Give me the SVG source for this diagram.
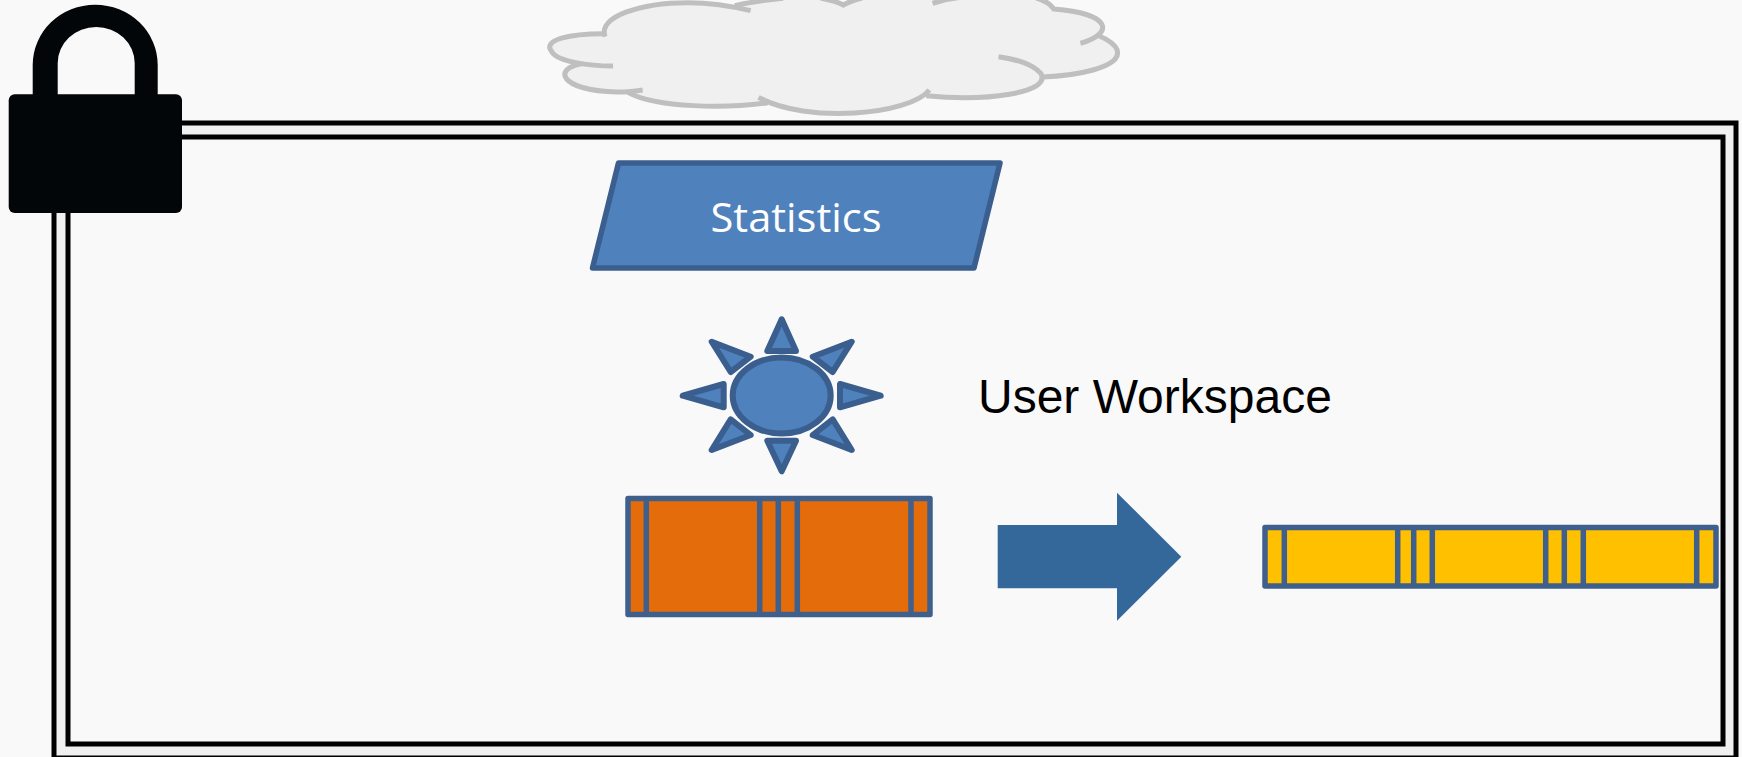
<svg xmlns="http://www.w3.org/2000/svg" width="1742" height="757" viewBox="0 0 1742 757">
<style>
.bl{fill:#4f81bd;stroke:#3a5f8f;stroke-width:6;stroke-linejoin:round}
.bar{stroke:#3f5f8d;stroke-width:5.500;stroke-linejoin:round}
.cl{fill:none;stroke:#bfbfbf;stroke-width:5;vector-effect:non-scaling-stroke}
</style>
<rect width="1742" height="757" fill="#f9f9f9"/>
<g id="frame">
<rect x="54" y="123" width="1682" height="635" fill="#f0f0f0" stroke="#000" stroke-width="5"/>
<rect x="68" y="137" width="1655" height="607" fill="#f9f9f9" stroke="#000" stroke-width="5"/>
</g>
<g id="cloud" transform="translate(530 0) scale(.3954 .33333)">
<path fill="#f0f0f0" d="M190,100C170,50 280,8 400,8C450,8 490,10 525,17C600,-10 730,-15 790,15C850,-15 1000,-10 1060,-10C1200,-15 1300,-5 1325,27C1420,35 1470,70 1445,105C1490,130 1500,170 1450,200C1400,222 1340,230 1297,231C1280,280 1150,305 1003,288C960,345 700,372 598,310C500,325 320,325 250,277C130,285 60,240 90,205C100,198 115,192 130,190C60,180 30,140 70,118C100,105 150,100 190,100Z"/>
<path class="cl" d="M558,32C500,15 450,8 400,8C280,8 170,50 190,110"/>
<path class="cl" d="M192,101C100,100 30,120 55,155C70,185 150,198 210,198"/>
<path class="cl" d="M130,191C60,205 70,270 220,276C245,277 265,273 285,270"/>
<path class="cl" d="M248,277C320,325 500,325 602,308"/>
<path class="cl" d="M578,292C700,372 960,345 1010,270"/>
<path class="cl" d="M1002,287C1150,305 1320,280 1292,220C1270,190 1230,178 1185,170"/>
<path class="cl" d="M1297,231C1370,228 1500,205 1485,150C1478,130 1460,118 1440,108"/>
<path class="cl" d="M1392,130C1480,100 1470,40 1325,27C1310,0 1280,-5 1265,-12"/>
<path class="cl" d="M1018,10C1050,-3 1070,-6 1090,-8"/>
<path class="cl" d="M735,-6C760,0 780,6 792,15C805,6 820,0 840,-6"/>
<path class="cl" d="M518,17C560,5 600,0 640,-5"/>
</g>
<g id="lock" fill="#020608">
<rect x="8.700" y="94.300" width="173.300" height="118.700" rx="6"/>
<path fill-rule="evenodd" d="M32.700,100V65A62.500,60.300 0 0 1 157.700,65V100H134.700V63A38.500,36 0 0 0 57.700,63V100Z"/>
</g>
<g id="statistics">
<path class="bl" d="M618.500,163H1000L974,268H592.500Z" style="stroke-width:5.500"/>
<text x="796" y="232" text-anchor="middle" font-family="'Open Sans',sans-serif" font-size="41" fill="#fff" textLength="171" lengthAdjust="spacingAndGlyphs">Statistics</text>
</g>
<g id="sun" class="bl">
<ellipse cx="781.700" cy="395.500" rx="49" ry="38"/>
<path d="M781.700,319.300L767.300,351H796Z"/>
<path d="M781.700,471.300L767.300,440.700H796Z"/>
<path d="M682.700,395.700L723.700,384V407.300Z"/>
<path d="M880.700,395.700L840,384V407.300Z"/>
<path d="M711.700,341.700L750.700,356.700L730.700,372Z"/>
<path d="M851.700,341.700L812.700,356.700L832.700,372Z"/>
<path d="M711.700,450L750.700,435L730.700,419.300Z"/>
<path d="M851.700,450L812.700,435L832.700,419.300Z"/>
</g>
<g id="user-workspace">
<text x="978" y="413" font-family="'Liberation Sans',Arial,sans-serif" font-size="48" fill="#000">User Workspace</text>
</g>
<g id="orange-process" class="bar" fill="#e46c0a">
<rect x="628" y="498.500" width="302" height="116"/>
<path fill="none" d="M646.300,498.500V614.500M759.700,498.500V614.500M778.300,498.500V614.500M797.300,498.500V614.500M911,498.500V614.500"/>
</g>
<g id="connectors">
<path id="arrow" fill="#34679a" d="M997.700,525H1117V492.700L1181.300,556.700L1117,620.700V588.300H997.700Z"/>
</g>
<g id="yellow-process" class="bar" fill="#ffc000">
<rect x="1265" y="527.500" width="451" height="58.500"/>
<path fill="none" d="M1284.300,527.500V586M1397.700,527.500V586M1413.700,527.500V586M1432.300,527.500V586M1545.700,527.500V586M1564.300,527.500V586M1583.300,527.500V586M1696.700,527.500V586"/>
</g>
</svg>
